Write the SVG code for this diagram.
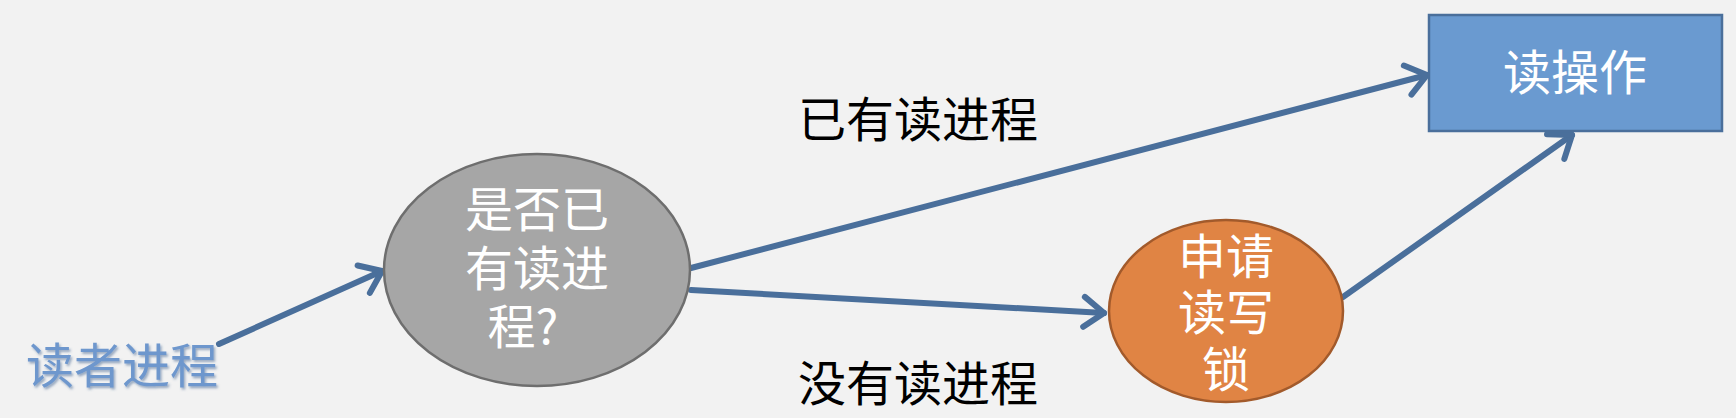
<svg xmlns="http://www.w3.org/2000/svg" width="1736" height="418" viewBox="0 0 1736 418">
<style>
text{font-family:"Noto Sans CJK SC","Liberation Sans",sans-serif;font-size:48px;text-anchor:middle}
.w{fill:#ffffff}
.k{fill:#000000}
.conn{stroke:#4a6f9b;stroke-width:6;fill:none;stroke-linecap:round}
</style>
<defs>
<marker id="arr" markerUnits="userSpaceOnUse" viewBox="-30 -20 40 40" markerWidth="40" markerHeight="40" refX="0" refY="0" orient="auto">
<path d="M-20,-15 L0,0 L-20,15" fill="none" stroke="#4a6f9b" stroke-width="6" stroke-linecap="round" stroke-linejoin="round"/>
</marker>
<filter id="sh" x="-10%" y="-10%" width="120%" height="130%">
<feDropShadow dx="1.5" dy="2" stdDeviation="1.2" flood-color="#3a5f8f" flood-opacity="0.5"/>
</filter>
</defs>
<rect width="1736" height="418" fill="#f2f2f2"/>
<g id="connectors">
<line class="conn" x1="219" y1="344" x2="382" y2="271" marker-end="url(#arr)"/>
<line class="conn" x1="691" y1="268" x2="1427" y2="75" marker-end="url(#arr)"/>
<line class="conn" x1="691" y1="290" x2="1104" y2="313" marker-end="url(#arr)"/>
<line class="conn" x1="1343" y1="297" x2="1572" y2="135" marker-end="url(#arr)"/>
</g>
<g id="reader">
<text x="122" y="383" fill="#6e97cd" filter="url(#sh)">读者进程</text>
</g>
<g id="check">
<ellipse cx="537" cy="270" rx="153" ry="116" fill="#a6a6a6" stroke="#6e6e6e" stroke-width="2.5"/>
<text class="w" x="537" y="227">是否已</text>
<text class="w" x="537" y="286">有读进</text>
<text class="w" x="523" y="344">程?</text>
</g>
<g id="lock">
<ellipse cx="1226" cy="311" rx="117" ry="91" fill="#e08444" stroke="#a25a2b" stroke-width="2.5"/>
<text class="w" x="1226" y="274">申请</text>
<text class="w" x="1226" y="330">读写</text>
<text class="w" x="1226" y="387">锁</text>
</g>
<g id="read">
<rect x="1429" y="15" width="293" height="116" fill="#6a9ad0" stroke="#4a6f9b" stroke-width="2.5"/>
<text class="w" x="1575" y="90">读操作</text>
</g>
<g id="labels">
<text class="k" x="918" y="137">已有读进程</text>
<text class="k" x="918" y="401">没有读进程</text>
</g>
</svg>
